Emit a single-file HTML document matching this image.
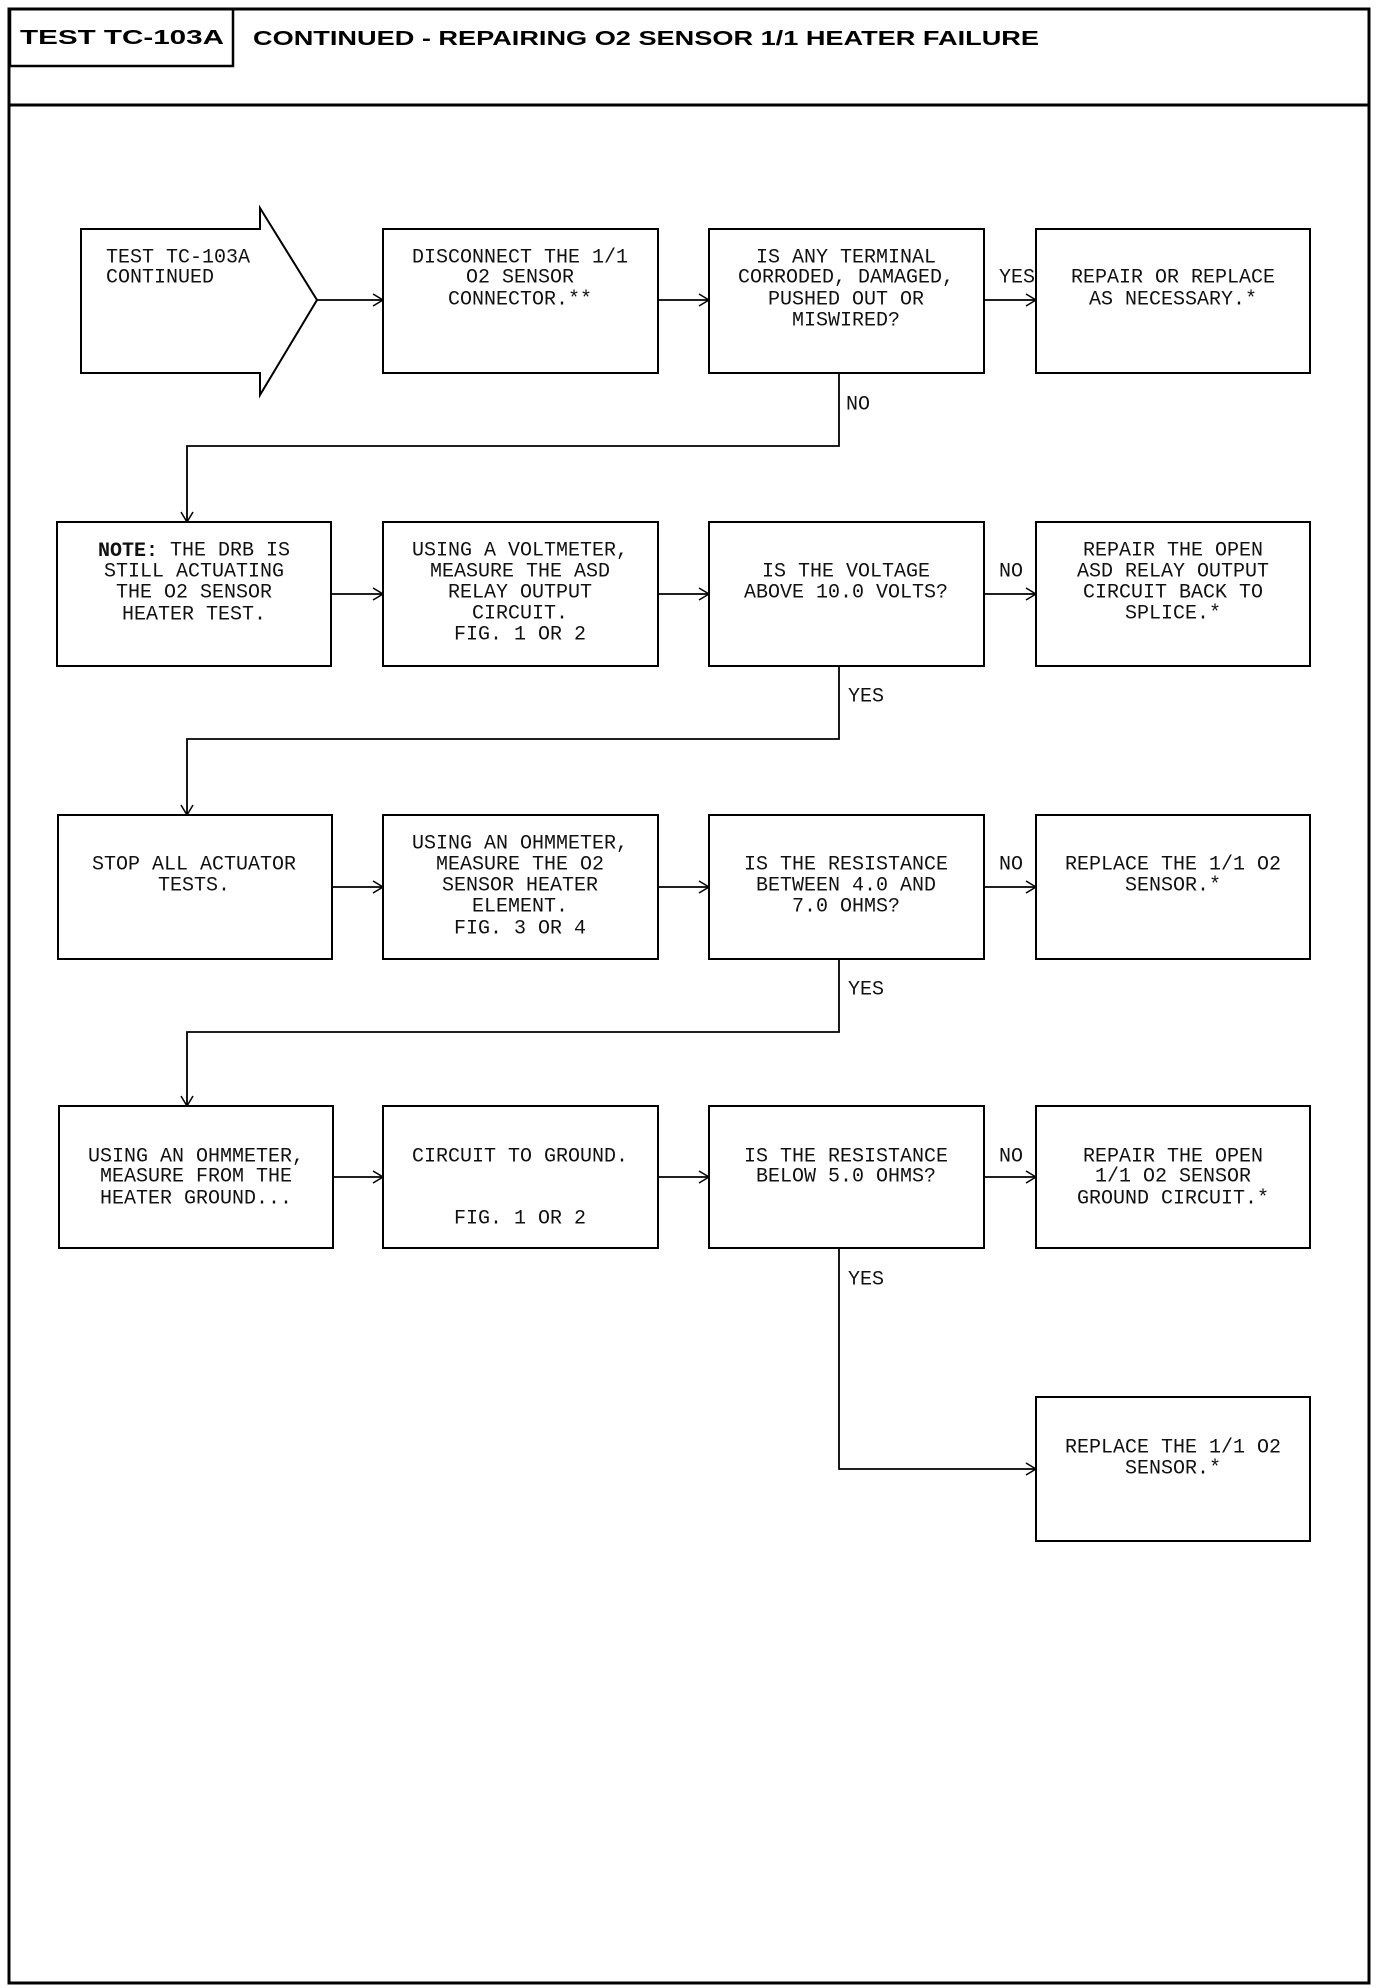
<!DOCTYPE html>
<html><head><meta charset="utf-8"><style>
html,body{margin:0;padding:0;background:#fff;}
svg{display:block;}
text{font-family:"Liberation Mono",monospace;font-size:20px;fill:#111;}
.t{text-anchor:middle;dominant-baseline:central;}
.l{dominant-baseline:central;}
.h{font-family:"Liberation Sans",sans-serif;font-weight:bold;fill:#000;dominant-baseline:central;}
</style></head><body>
<svg width="1392" height="1988" viewBox="0 0 1392 1988" xmlns="http://www.w3.org/2000/svg">
<defs><marker id="a" markerWidth="12" markerHeight="14" refX="11" refY="7" orient="auto" markerUnits="userSpaceOnUse"><path d="M1,1 L11,7 L1,13" fill="none" stroke="#000" stroke-width="1.5"/></marker></defs>
<g fill="none" stroke="#000">
<rect x="9" y="9" width="1360" height="1974" stroke-width="3"/>
<line x1="9" y1="105" x2="1369" y2="105" stroke-width="3"/>
<rect x="10" y="9" width="223" height="57" stroke-width="2.5"/>
</g>
<text class="h" x="20" y="38" font-size="36" textLength="204" lengthAdjust="spacingAndGlyphs">TEST TC-103A</text>
<text class="h" x="253" y="39" font-size="30" textLength="786" lengthAdjust="spacingAndGlyphs">CONTINUED - REPAIRING O2 SENSOR 1/1 HEATER FAILURE</text>

<g fill="none" stroke="#000" stroke-width="2">
<path d="M81,229 H260 V208 L317,300 L260,395 V373 H81 Z"/>
<rect x="383" y="229" width="275" height="144"/>
<rect x="709" y="229" width="275" height="144"/>
<rect x="1036" y="229" width="274" height="144"/>
<rect x="57" y="522" width="274" height="144"/>
<rect x="383" y="522" width="275" height="144"/>
<rect x="709" y="522" width="275" height="144"/>
<rect x="1036" y="522" width="274" height="144"/>
<rect x="58" y="815" width="274" height="144"/>
<rect x="383" y="815" width="275" height="144"/>
<rect x="709" y="815" width="275" height="144"/>
<rect x="1036" y="815" width="274" height="144"/>
<rect x="59" y="1106" width="274" height="142"/>
<rect x="383" y="1106" width="275" height="142"/>
<rect x="709" y="1106" width="275" height="142"/>
<rect x="1036" y="1106" width="274" height="142"/>
<rect x="1036" y="1397" width="274" height="144"/>
</g>
<g fill="none" stroke="#000" stroke-width="1.8" marker-end="url(#a)">
<line x1="317" y1="300" x2="383" y2="300"/>
<line x1="658" y1="300" x2="709" y2="300"/>
<line x1="984" y1="300" x2="1036" y2="300"/>
<path d="M839,373 V446 H187 V522"/>
<line x1="331" y1="594" x2="383" y2="594"/>
<line x1="658" y1="594" x2="709" y2="594"/>
<line x1="984" y1="594" x2="1036" y2="594"/>
<path d="M839,666 V739 H187 V815"/>
<line x1="332" y1="887" x2="383" y2="887"/>
<line x1="658" y1="887" x2="709" y2="887"/>
<line x1="984" y1="887" x2="1036" y2="887"/>
<path d="M839,959 V1032 H187 V1106"/>
<line x1="333" y1="1177" x2="383" y2="1177"/>
<line x1="658" y1="1177" x2="709" y2="1177"/>
<line x1="984" y1="1177" x2="1036" y2="1177"/>
<path d="M839,1248 V1469 H1036"/>
</g>

<text class="l" x="106" y="258">TEST TC-103A</text>
<text class="l" x="106" y="278">CONTINUED</text>
<text class="t" x="520" y="258">DISCONNECT THE 1/1</text>
<text class="t" x="520" y="278">O2 SENSOR</text>
<text class="t" x="520" y="300">CONNECTOR.**</text>
<text class="t" x="846" y="258">IS ANY TERMINAL</text>
<text class="t" x="846" y="278">CORRODED, DAMAGED,</text>
<text class="t" x="846" y="300">PUSHED OUT OR</text>
<text class="t" x="846" y="321">MISWIRED?</text>
<text class="t" x="1173" y="278">REPAIR OR REPLACE</text>
<text class="t" x="1173" y="300">AS NECESSARY.*</text>
<text class="t" x="1017" y="278">YES</text>
<text class="l" x="846" y="405">NO</text>

<text class="t" x="194" y="551"><tspan font-weight="bold">NOTE:</tspan> THE DRB IS</text>
<text class="t" x="194" y="572">STILL ACTUATING</text>
<text class="t" x="194" y="593">THE O2 SENSOR</text>
<text class="t" x="194" y="615">HEATER TEST.</text>
<text class="t" x="520" y="551">USING A VOLTMETER,</text>
<text class="t" x="520" y="572">MEASURE THE ASD</text>
<text class="t" x="520" y="593">RELAY OUTPUT</text>
<text class="t" x="520" y="614">CIRCUIT.</text>
<text class="t" x="520" y="635">FIG. 1 OR 2</text>
<text class="t" x="846" y="572">IS THE VOLTAGE</text>
<text class="t" x="846" y="593">ABOVE 10.0 VOLTS?</text>
<text class="t" x="1173" y="551">REPAIR THE OPEN</text>
<text class="t" x="1173" y="572">ASD RELAY OUTPUT</text>
<text class="t" x="1173" y="593">CIRCUIT BACK TO</text>
<text class="t" x="1173" y="614">SPLICE.*</text>
<text class="t" x="1011" y="572">NO</text>
<text class="l" x="848" y="697">YES</text>

<text class="t" x="194" y="865">STOP ALL ACTUATOR</text>
<text class="t" x="194" y="886">TESTS.</text>
<text class="t" x="520" y="844">USING AN OHMMETER,</text>
<text class="t" x="520" y="865">MEASURE THE O2</text>
<text class="t" x="520" y="886">SENSOR HEATER</text>
<text class="t" x="520" y="907">ELEMENT.</text>
<text class="t" x="520" y="929">FIG. 3 OR 4</text>
<text class="t" x="846" y="865">IS THE RESISTANCE</text>
<text class="t" x="846" y="886">BETWEEN 4.0 AND</text>
<text class="t" x="846" y="907">7.0 OHMS?</text>
<text class="t" x="1173" y="865">REPLACE THE 1/1 O2</text>
<text class="t" x="1173" y="886">SENSOR.*</text>
<text class="t" x="1011" y="865">NO</text>
<text class="l" x="848" y="990">YES</text>

<text class="t" x="196" y="1157">USING AN OHMMETER,</text>
<text class="t" x="196" y="1177">MEASURE FROM THE</text>
<text class="t" x="196" y="1199">HEATER GROUND...</text>
<text class="t" x="520" y="1157">CIRCUIT TO GROUND.</text>
<text class="t" x="520" y="1219">FIG. 1 OR 2</text>
<text class="t" x="846" y="1157">IS THE RESISTANCE</text>
<text class="t" x="846" y="1177">BELOW 5.0 OHMS?</text>
<text class="t" x="1173" y="1157">REPAIR THE OPEN</text>
<text class="t" x="1173" y="1177">1/1 O2 SENSOR</text>
<text class="t" x="1173" y="1199">GROUND CIRCUIT.*</text>
<text class="t" x="1011" y="1157">NO</text>
<text class="l" x="848" y="1280">YES</text>

<text class="t" x="1173" y="1448">REPLACE THE 1/1 O2</text>
<text class="t" x="1173" y="1469">SENSOR.*</text>
</svg>
</body></html>
